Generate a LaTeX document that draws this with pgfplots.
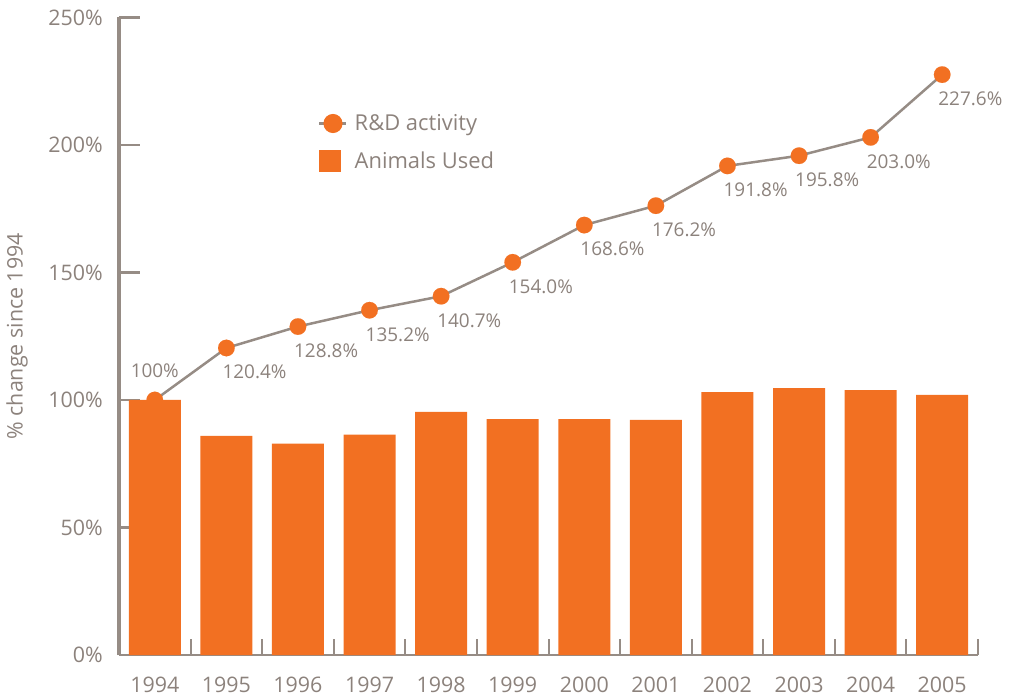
\documentclass[border=0pt]{standalone}
\usepackage{pgfplots}
\pgfplotsset{compat=1.18}
\usepackage{fontspec}
\setmainfont{Open Sans}
\definecolor{txt}{RGB}{140,130,124}
\definecolor{axl}{RGB}{150,140,133}
\definecolor{org}{RGB}{242,112,34}
\begin{document}
\begin{tikzpicture}
\begin{axis}[
  scale only axis, width=859bp, height=637.5bp,
  xmin=-0.5, xmax=11.5, ymin=0, ymax=250,
  clip=false,
  axis x line*=bottom, axis y line*=left,
  x axis line style={draw=axl, line width=2.5bp},
  y axis line style={draw=axl, line width=3.5bp},
  xtick={0,...,11},
  xticklabels={1994,1995,1996,1997,1998,1999,2000,2001,2002,2003,2004,2005},
  major x tick style={draw=none},
  minor xtick={0.5,1.5,...,11.5},
  minor x tick style={draw=axl, line width=2bp},
  minor tick length=16bp,
  ytick={0,50,...,250},
  yticklabels={0\%,50\%,100\%,150\%,200\%,250\%},
  major y tick style={draw=axl, line width=2.5bp},
  major tick length=21bp,
  tick align=inside, xtick pos=left, ytick pos=left,
  xticklabel style={font=\fontsize{21.5}{25}\selectfont, text=txt, anchor=north, inner sep=0pt, yshift=-22bp},
  yticklabel style={font=\fontsize{21.5}{25}\selectfont, text=txt, anchor=east, inner sep=0pt, xshift=-16bp},
  ylabel={\% change since 1994},
  ylabel style={font=\fontsize{21.5}{25}\selectfont, text=txt, at={(axis description cs:-0.1187,0.5)}, anchor=center},
  legend style={at={(rel axis cs:0.2317,0.849)}, anchor=north west, draw=none, fill=none, inner sep=0pt,
    font=\fontsize{22}{26}\selectfont, text=txt, row sep=17bp, nodes={inner sep=0pt},
    /tikz/every odd column/.append style={column sep=7bp}},
  legend cell align=left,
  reverse legend,
]
\coordinate (o) at (rel axis cs:0,0);
\addplot[ybar, bar width=52bp, bar shift=0pt, fill=org, draw=none,
  legend image code/.code={\fill[org] (0bp,-11bp) rectangle (22bp,11bp); \path (27bp,0bp);}]
  coordinates {(0,100.0) (1,85.9) (2,82.9) (3,86.4) (4,95.3) (5,92.5) (6,92.5) (7,92.2) (8,103.1) (9,104.7) (10,103.9) (11,102.0)};
\addlegendentry{Animals Used}
\addplot[color=axl, line width=2.5bp, mark=*, mark size=8.3bp, mark options={fill=org, draw=org, line width=0.1bp},
  legend image code/.code={\draw[axl, line width=2.5bp] (0bp,0bp) -- (27bp,0bp); \fill[org] (13.5bp,0bp) circle (8.3bp);}]
  coordinates {(0,100) (1,120.4) (2,128.8) (3,135.2) (4,140.7) (5,154.0) (6,168.6) (7,176.2) (8,191.8) (9,195.8) (10,203.0) (11,227.6)};
\addlegendentry{R\&D activity}
\addplot[forget plot, draw=none, mark=none, nodes near coords, point meta=explicit symbolic,
  nodes near coords style={font=\fontsize{19}{23}\selectfont, text=txt, anchor=north west, inner sep=0pt, xshift=-4bp, yshift=-17bp}]
  coordinates {(1,120.4) [120.4\%] (2,128.8) [128.8\%] (3,135.2) [135.2\%] (4,140.7) [140.7\%] (5,154.0) [154.0\%] (6,168.6) [168.6\%] (7,176.2) [176.2\%] (8,191.8) [191.8\%] (9,195.8) [195.8\%] (10,203.0) [203.0\%] (11,227.6) [227.6\%]};
\addplot[forget plot, draw=none, mark=none, nodes near coords, point meta=explicit symbolic,
  nodes near coords style={font=\fontsize{19}{23}\selectfont, text=txt, anchor=south, inner sep=0pt, yshift=22bp}]
  coordinates {(0,100) [100\%]};
\end{axis}
\pgfresetboundingbox
\path (o) ++(-119bp,-42bp) rectangle ++(1012bp,697bp);
\end{tikzpicture}
\end{document}
